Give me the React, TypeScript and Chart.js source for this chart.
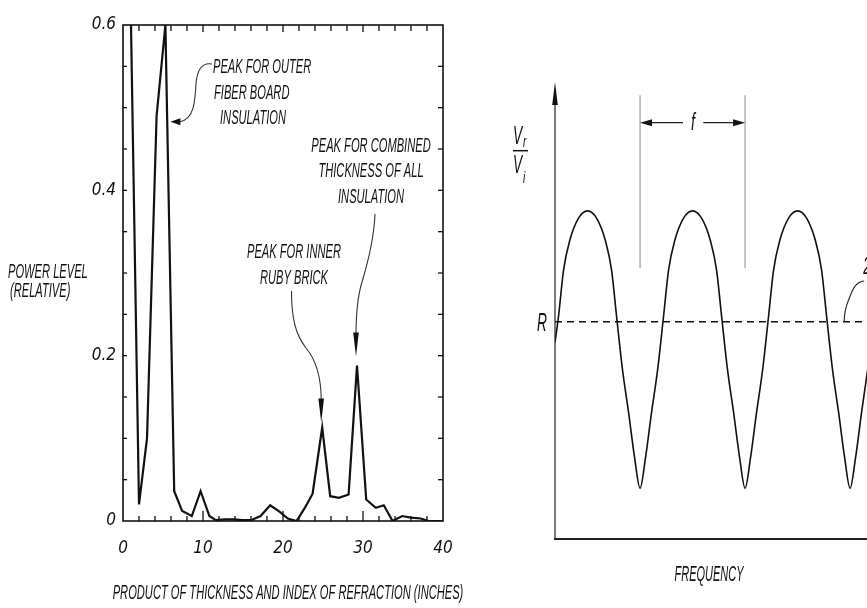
import React, { useEffect, useRef } from "react";
import { Chart, registerables } from "chart.js";

Chart.register(...registerables);

// ---------- Left panel data: power spectrum ----------
const thickness = [1.0, 2.0, 3.0, 4.2, 5.3, 6.4, 7.4, 8.6, 9.7, 10.8, 11.6, 12.7, 13.8, 14.9, 16.0, 17.2, 18.4, 19.6, 20.6, 21.7, 22.8, 23.7, 24.9, 25.9, 27.0, 28.2, 29.25, 30.4, 31.6, 32.6, 33.7, 34.9, 36.0, 37.2, 38.2, 39.3, 40.0];
const powerLevel = [0.6, 0.02, 0.1, 0.49, 0.6, 0.036, 0.012, 0.006, 0.036, 0.006, 0.001, 0.002, 0.002, 0.001, 0.001, 0.006, 0.019, 0.011, 0.003, 0.0, 0.017, 0.033, 0.113, 0.03, 0.028, 0.032, 0.188, 0.026, 0.016, 0.019, 0.0, 0.006, 0.004, 0.003, 0.0, 0.0, 0.0];
const xLabelTicks = [0, 10, 20, 30, 40];
const yLabelTicks = [0, 0.2, 0.4, 0.6];
const yLabelText = ["0", "0.2", "0.4", "0.6"];
const xAxisTitle = "PRODUCT OF THICKNESS AND INDEX OF REFRACTION (INCHES)";
const yAxisTitle = ["POWER LEVEL", "(RELATIVE)"];
const outerLabel = ["PEAK FOR OUTER", "FIBER BOARD", "INSULATION"];
const combinedLabel = ["PEAK FOR COMBINED", "THICKNESS OF ALL", "INSULATION"];
const innerLabel = ["PEAK FOR INNER", "RUBY BRICK"];

// ---------- Right panel data: reflection ratio vs frequency ----------
const frequency = [0, 0.034, 0.081, 0.139, 0.224, 0.31, 0.396, 0.481, 0.539, 0.586, 0.643, 0.7, 0.758, 0.81, 0.862, 0.92, 0.977, 1.034, 1.081, 1.139, 1.224, 1.31, 1.396, 1.481, 1.539, 1.586, 1.643, 1.7, 1.758, 1.81, 1.862, 1.92, 1.977, 2.034, 2.081, 2.139, 2.224, 2.31, 2.396, 2.481, 2.539, 2.586, 2.643, 2.7, 2.758, 2.81, 2.862, 2.92, 2.977];
const ratio = [0.43, 0.488, 0.588, 0.652, 0.702, 0.718, 0.702, 0.652, 0.588, 0.488, 0.37, 0.278, 0.178, 0.111, 0.178, 0.278, 0.37, 0.488, 0.588, 0.652, 0.702, 0.718, 0.702, 0.652, 0.588, 0.488, 0.37, 0.278, 0.178, 0.111, 0.178, 0.278, 0.37, 0.488, 0.588, 0.652, 0.702, 0.718, 0.702, 0.652, 0.588, 0.488, 0.37, 0.278, 0.178, 0.111, 0.178, 0.278, 0.37];
const referenceLevel = 0.4755;
const frequencyMax = 2.971;
const periodMarks = [0.81, 1.81];

const FONT = '"Liberation Sans", Arial, sans-serif';
const NARROW = '"Liberation Sans Narrow", "DejaVu Sans Condensed", "Liberation Sans", sans-serif';

function cText(ctx: CanvasRenderingContext2D, text: string, x: number, y: number, size = 21, sx = 0.53, align: CanvasTextAlign = "left") {
  ctx.save();
  ctx.translate(x, y);
  ctx.scale(sx, 1);
  ctx.font = `italic ${size}px ${FONT}`;
  ctx.textAlign = align;
  ctx.textBaseline = "middle";
  ctx.fillStyle = "#111";
  ctx.fillText(text, 0, 0);
  ctx.restore();
}

function seg(ctx: CanvasRenderingContext2D, x1: number, y1: number, x2: number, y2: number) {
  ctx.beginPath();
  ctx.moveTo(x1, y1);
  ctx.lineTo(x2, y2);
  ctx.stroke();
}

function arrowHead(ctx: CanvasRenderingContext2D, tx: number, ty: number, dx: number, dy: number, len: number, half: number) {
  const bx = tx - dx * len, by = ty - dy * len;
  const nx = -dy, ny = dx;
  ctx.beginPath();
  ctx.moveTo(tx, ty);
  ctx.lineTo(bx + nx * half, by + ny * half);
  ctx.lineTo(bx - nx * half, by - ny * half);
  ctx.closePath();
  ctx.fill();
}

const leftPlugin = {
  id: "leftDecor",
  afterDraw(chart: any) {
    const { ctx, chartArea: a, scales } = chart;
    const x = scales.x, y = scales.y;
    ctx.save();
    ctx.strokeStyle = "#111";
    ctx.fillStyle = "#111";
    ctx.lineWidth = 1.6;
    ctx.strokeRect(a.left, a.top, a.right - a.left, a.bottom - a.top);
    ctx.lineWidth = 1.3;
    x.ticks.forEach((t: any) => {
      if (t.value <= 0 || t.value >= 40) return;
      const px = x.getPixelForValue(t.value);
      const major = xLabelTicks.includes(t.value);
      seg(ctx, px, a.bottom, px, a.bottom - (major ? 10 : 5));
      seg(ctx, px, a.top, px, a.top + (major ? 7 : 6));
    });
    y.ticks.forEach((t: any) => {
      if (t.value <= 0.0001 || t.value >= 0.5999) return;
      const py = y.getPixelForValue(t.value);
      seg(ctx, a.left, py, a.left + 4, py);
      seg(ctx, a.right, py, a.right - 5, py);
    });

    // axis titles
    cText(ctx, yAxisTitle[0], 8, 272);
    cText(ctx, yAxisTitle[1], 10, 291);
    cText(ctx, xAxisTitle, (a.left + a.right) / 2 + 5, 593, 21, 0.53, "center");

    // annotations
    cText(ctx, outerLabel[0], 213, 67);
    cText(ctx, outerLabel[1], 214, 93);
    cText(ctx, outerLabel[2], 220, 118);
    combinedLabel.forEach((s, i) => cText(ctx, s, 371, 146 + i * 25.5, 21, 0.53, "center"));
    innerLabel.forEach((s, i) => cText(ctx, s, 294, 252 + i * 26, 21, 0.53, "center"));

    // leader lines
    ctx.strokeStyle = "#333";
    ctx.fillStyle = "#111";
    ctx.lineWidth = 1.1;
    const outerPeakX = x.getPixelForValue(thickness[4]);
    const tipOuterX = outerPeakX + 5;
    ctx.beginPath();
    ctx.moveTo(212, 64);
    ctx.bezierCurveTo(202, 62, 197, 70, 196, 84);
    ctx.bezierCurveTo(195, 102, 194, 119, 180, 121.7);
    ctx.stroke();
    arrowHead(ctx, tipOuterX, 121.7, -1, 0, 10, 3.5);

    const innerPx = x.getPixelForValue(thickness[22]);
    const innerPy = y.getPixelForValue(powerLevel[22]);
    ctx.beginPath();
    ctx.moveTo(291.5, 291);
    ctx.bezierCurveTo(291.5, 320, 296, 335, 306, 348);
    ctx.bezierCurveTo(316, 360, innerPx - 1, 375, innerPx - 1, 400);
    ctx.stroke();
    arrowHead(ctx, innerPx - 1, innerPy - 5, 0, 1, 24, 2.8);

    const combPx = x.getPixelForValue(thickness[26]);
    const combPy = y.getPixelForValue(powerLevel[26]);
    ctx.beginPath();
    ctx.moveTo(375, 214);
    ctx.bezierCurveTo(374, 240, 368, 262, 362, 282);
    ctx.bezierCurveTo(357, 298, combPx - 1, 315, combPx - 1, 336);
    ctx.stroke();
    arrowHead(ctx, combPx - 1, combPy - 9, 0, 1, 24, 2.8);
    ctx.restore();
  },
};

const rightPlugin = {
  id: "rightDecor",
  afterDraw(chart: any) {
    const { ctx, scales } = chart;
    const X = (v: number) => scales.x.getPixelForValue(v);
    const Y = (v: number) => scales.y.getPixelForValue(v);
    const x0 = X(0), y0 = Y(0), yTop = Y(1);
    ctx.save();
    ctx.strokeStyle = "#222";
    ctx.fillStyle = "#111";
    ctx.lineWidth = 1.2;
    seg(ctx, x0, y0, x0, yTop + 12);
    arrowHead(ctx, x0, yTop, 0, -1, 23, 2.8);
    ctx.lineWidth = 2.2;
    seg(ctx, x0 - 1, y0, chart.width, y0);

    ctx.strokeStyle = "#888";
    ctx.lineWidth = 1;
    periodMarks.forEach((m) => seg(ctx, X(m), Y(0.971), X(m), Y(0.593)));
    const ay = Y(0.911);
    ctx.strokeStyle = "#222";
    ctx.lineWidth = 1.2;
    seg(ctx, X(periodMarks[0]) + 10, ay, X(1.219), ay);
    seg(ctx, X(1.412), ay, X(periodMarks[1]) - 10, ay);
    arrowHead(ctx, X(periodMarks[0]), ay, -1, 0, 12, 3.5);
    arrowHead(ctx, X(periodMarks[1]), ay, 1, 0, 12, 3.5);
    cText(ctx, "f", X(1.314), ay + 1, 24, 0.6, "center");

    cText(ctx, "R", x0 - 8, Y(referenceLevel) + 2, 25, 0.55, "right");
    cText(ctx, "V", x0 - 42, 137.5, 25, 0.55);
    cText(ctx, "r", x0 - 32, 142, 17, 0.6);
    ctx.lineWidth = 1.5;
    ctx.strokeStyle = "#111";
    seg(ctx, x0 - 42, 150.7, x0 - 27, 150.7);
    cText(ctx, "V", x0 - 42, 166, 25, 0.55);
    cText(ctx, "i", x0 - 32, 178, 17, 0.6);
    cText(ctx, "FREQUENCY", X(1.467), y0 + 36, 22, 0.5, "center");

    cText(ctx, "2", X(2.906) + 3, 267, 24, 0.55);
    ctx.strokeStyle = "#222";
    ctx.lineWidth = 1.1;
    ctx.beginPath();
    ctx.moveTo(X(2.906) + 4, 281);
    ctx.bezierCurveTo(X(2.906) - 4, 282, X(2.906) - 7, 288, X(2.906) - 10, 296);
    ctx.bezierCurveTo(X(2.906) - 13, 304, X(2.906) - 16, 308, X(2.906) - 16, Y(referenceLevel));
    ctx.stroke();
    ctx.restore();
  },
};

export default function App() {
  const leftRef = useRef<HTMLCanvasElement | null>(null);
  const rightRef = useRef<HTMLCanvasElement | null>(null);

  useEffect(() => {
    const tickFont = { family: NARROW, size: 17, style: "italic" as const };
    const left = new Chart(leftRef.current as HTMLCanvasElement, {
      type: "line",
      data: {
        datasets: [
          {
            data: thickness.map((t, i) => ({ x: t, y: powerLevel[i] })),
            borderColor: "#111",
            borderWidth: 2.2,
            pointRadius: 0,
            tension: 0,
            fill: false,
          },
        ],
      },
      options: {
        animation: false,
        responsive: false,
        maintainAspectRatio: false,
        layout: { padding: { top: 25, right: 37, left: 0, bottom: 0 } },
        plugins: { legend: { display: false }, tooltip: { enabled: false } },
        scales: {
          x: {
            type: "linear",
            min: 0,
            max: 40,
            afterFit: (s: any) => { s.height = 87; },
            grid: { display: false, drawTicks: false },
            border: { display: false },
            ticks: {
              stepSize: 2,
              autoSkip: false,
              maxRotation: 0,
              padding: 17,
              color: "#111",
              font: tickFont,
              callback: (v: any) => (xLabelTicks.includes(Number(v)) ? String(v) : ""),
            },
          },
          y: {
            type: "linear",
            min: 0,
            max: 0.6,
            afterFit: (s: any) => { s.width = 123; },
            grid: { display: false, drawTicks: false },
            border: { display: false },
            ticks: {
              stepSize: 0.05,
              autoSkip: false,
              padding: 7,
              color: "#111",
              font: tickFont,
              callback: (v: any) => {
                const idx = yLabelTicks.findIndex((t) => Math.abs(t - Number(v)) < 1e-6);
                return idx >= 0 ? yLabelText[idx] : "";
              },
            },
          },
        },
      },
      plugins: [leftPlugin],
    });

    const right = new Chart(rightRef.current as HTMLCanvasElement, {
      type: "line",
      data: {
        datasets: [
          {
            data: frequency.map((f, i) => ({ x: f, y: ratio[i] })),
            borderColor: "#111",
            borderWidth: 1.6,
            pointRadius: 0,
            cubicInterpolationMode: "monotone",
            fill: false,
          },
          {
            data: [
              { x: 0, y: referenceLevel },
              { x: frequencyMax, y: referenceLevel },
            ],
            borderColor: "#111",
            borderWidth: 1.6,
            borderDash: [7, 5],
            pointRadius: 0,
            fill: false,
          },
        ],
      },
      options: {
        animation: false,
        responsive: false,
        maintainAspectRatio: false,
        layout: { padding: { top: 82, right: 0, left: 75, bottom: 69 } },
        plugins: { legend: { display: false }, tooltip: { enabled: false } },
        scales: {
          x: { type: "linear", min: 0, max: frequencyMax, display: false },
          y: { type: "linear", min: 0, max: 1, display: false },
        },
      },
      plugins: [rightPlugin],
    });

    return () => {
      left.destroy();
      right.destroy();
    };
  }, []);

  return (
    <div style={{ position: "absolute", left: 0, top: 0, width: 867, height: 608, background: "#fff", overflow: "hidden" }}>
      <canvas ref={leftRef} width={480} height={608} style={{ position: "absolute", left: 0, top: 0, width: 480, height: 608 }} />
      <canvas ref={rightRef} width={387} height={608} style={{ position: "absolute", left: 480, top: 0, width: 387, height: 608 }} />
    </div>
  );
}
